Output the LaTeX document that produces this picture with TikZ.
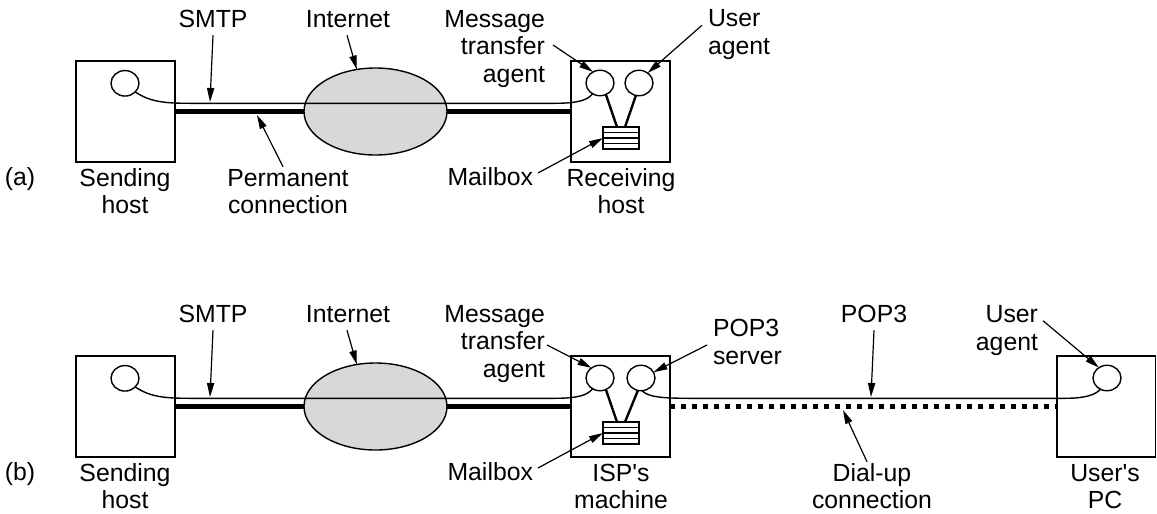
\documentclass[tikz,border=0pt]{standalone}
\usepackage{fontspec}
\setmainfont{Liberation Sans}
\newfontfamily\plainfont{Liberation Sans}
\usetikzlibrary{shapes.geometric,arrows.meta,calc}
\definecolor{inetgray}{RGB}{216,216,216}
\newcommand{\apos}{{\plainfont '}}
\begin{document}
\begin{tikzpicture}[x=0.5pt,y=-0.5pt,
  every node/.style={inner sep=0pt,outer sep=0pt},
  lbl/.style={font=\fontsize{12.4}{13.75}\selectfont,align=center},
  lblr/.style={font=\fontsize{12.4}{13.75}\selectfont,align=right},
  lbll/.style={font=\fontsize{12.4}{13.75}\selectfont,align=left},
  hostbox/.style={draw,line width=0.75pt,minimum width=49.5pt,minimum height=50.5pt},
  proc/.style={draw,ellipse,line width=0.7pt,minimum width=14pt,minimum height=12.75pt},
  cloud/.style={draw,ellipse,line width=0.7pt,fill=inetgray,minimum width=71.5pt,minimum height=43.5pt},
  mbox/.style={draw,line width=0.6pt,minimum width=18pt,minimum height=11pt},
  thick link/.style={line width=2.5pt},
  dial link/.style={line width=2.5pt,dash pattern=on 2.5pt off 3pt},
  proto/.style={line width=0.7pt},
  feed/.style={line width=1.2pt},
  pointer/.style={line width=0.6pt,-{Triangle[length=7pt,width=3.6pt]}}
]
\useasboundingbox (0,0) rectangle (1157,514);

% ================= (a) =================
\node[lbl] (la) at (20,180) {\strut(a)};
\node[hostbox] (snd) at (125.5,111.5) {};
\node[proc] (sc) at (125,83.3) {};
\node[hostbox] (rcv) at (620.5,111.5) {};
\node[proc] (mta) at (600,83) {};
\node[proc] (ua) at (639,83) {};
\node[mbox] (mb) at (621,138) {};
\foreach \f in {0.25,0.5,0.75}
  \draw[line width=0.6pt] ($(mb.north west)!\f!(mb.south west)$) -- ($(mb.north east)!\f!(mb.south east)$);
\draw[feed] (mta.-63) -- ([xshift=-2pt]mb.north);
\draw[feed] (ua.-104) -- ([xshift=2pt]mb.north);

\draw[thick link] (snd.east) -- (375,111.5);
\draw[thick link] (375,111.5) -- (rcv.west);
\node[cloud] (inet) at (375.5,111.5) {};
\draw[proto] (sc.-40) .. controls (150,102) and (165,103.3) .. (190,103.3) -- (555,103.3) .. controls (578,103.3) and (588,100) .. (mta.-125);

\node[lbl] (lsmtp) at (213,21.5) {\strut SMTP};
\node[lbl] (lint) at (348,21.5) {\strut Internet};
\node[lblr,anchor=east] (lmta) at (545,49) {\strut Message\\\strut transfer\\\strut agent};
\node[lbll,anchor=west] (lua) at (708,35.25) {\strut User\\\strut agent};
\node[lbl] (lsnd) at (125,194.25) {\strut Sending\\\strut host};
\node[lbl] (lperm) at (288,194.25) {\strut Permanent\\\strut connection};
\node[lblr,anchor=east] (lmb) at (533,180) {\strut Mailbox};
\node[lbl] (lrcv) at (621,194.25) {\strut Receiving\\\strut host};

\coordinate (smtptip) at (210,102);
\coordinate (permtip) at (257,115);
\draw[pointer] (lsmtp.south) -- (smtptip);
\draw[pointer] ([xshift=-0.5pt]lint.south) -- (inet.114);
\draw[pointer] ([xshift=-2.5pt]lperm.north) -- (permtip);
\draw[pointer] ([shift={(4pt,2pt)}]lmta.east) -- (mta.122);
\draw[pointer] ([shift={(-3pt,5pt)}]lua.west) -- (ua.49);
\draw[pointer] ([shift={(2.5pt,3.5pt)}]lmb.east) -- (mb.west);

% ================= (b) =================
\node[lbl] (lb) at (20,475) {\strut(b)};
\node[hostbox] (snd2) at (125.5,406.5) {};
\node[proc] (sc2) at (125,378.3) {};
\node[hostbox] (isp) at (620.5,406.5) {};
\node[proc] (mta2) at (600,378) {};
\node[proc] (pop) at (641,378) {};
\node[mbox] (mb2) at (621,433) {};
\foreach \f in {0.25,0.5,0.75}
  \draw[line width=0.6pt] ($(mb2.north west)!\f!(mb2.south west)$) -- ($(mb2.north east)!\f!(mb2.south east)$);
\draw[feed] (mta2.-63) -- ([xshift=-2pt]mb2.north);
\draw[feed] (pop.-104) -- ([xshift=2pt]mb2.north);
\node[hostbox,minimum width=49.25pt] (pc) at (1106,406.5) {};
\node[proc] (pcua) at (1107,378) {};

\draw[thick link] (snd2.east) -- (375,406.5);
\draw[thick link] (375,406.5) -- (isp.west);
\node[cloud] (inet2) at (375.5,406.5) {};
\draw[proto] (sc2.-40) .. controls (150,397) and (165,398.3) .. (190,398.3) -- (555,398.3) .. controls (578,398.3) and (588,395) .. (mta2.-125);
\draw[dial link] (isp.east) -- (pc.west);
\draw[proto] (pop.-85) .. controls (648,397) and (662,398.3) .. (690,398.3) -- (1065,398.3) .. controls (1085,398.3) and (1095,395) .. (pcua.-120);

\node[lbl] (lsmtp2) at (213,316.5) {\strut SMTP};
\node[lbl] (lint2) at (348,316.5) {\strut Internet};
\node[lblr,anchor=east] (lmta2) at (545,344) {\strut Message\\\strut transfer\\\strut agent};
\node[lbll,anchor=west] (lps) at (713,345) {\strut POP3\\\strut server};
\node[lbl] (lpop) at (874,316.5) {\strut POP3};
\node[lblr,anchor=east] (lua2) at (1038,330.75) {\strut User\\\strut agent};
\node[lbl] (lsnd2) at (125,489.25) {\strut Sending\\\strut host};
\node[lblr,anchor=east] (lmb2) at (533,475) {\strut Mailbox};
\node[lbl] (lisp) at (621,489.25) {\strut ISP\apos s\\\strut machine};
\node[lbl] (ldial) at (872,489.25) {\strut Dial-up\\\strut connection};
\node[lbl] (lpc) at (1105,489.25) {\strut User\apos s\\\strut PC};

\coordinate (smtptip2) at (210,397);
\coordinate (poptip) at (871,397);
\coordinate (dialtip) at (843,410);
\draw[pointer] (lsmtp2.south) -- (smtptip2);
\draw[pointer] ([xshift=-0.5pt]lint2.south) -- (inet2.114);
\draw[pointer] ([shift={(1pt,-0.5pt)}]lmta2.east) -- (mta2.130);
\draw[pointer] ([xshift=-3pt]lps.west) -- (pop.25);
\draw[pointer] (lpop.south) -- (poptip);
\draw[pointer] ([shift={(2.5pt,5pt)}]lua2.east) -- (pcua.128);
\draw[pointer] ([xshift=-2.5pt]ldial.north) -- (dialtip);
\draw[pointer] ([shift={(2.5pt,3.5pt)}]lmb2.east) -- (mb2.west);
\end{tikzpicture}
\end{document}
